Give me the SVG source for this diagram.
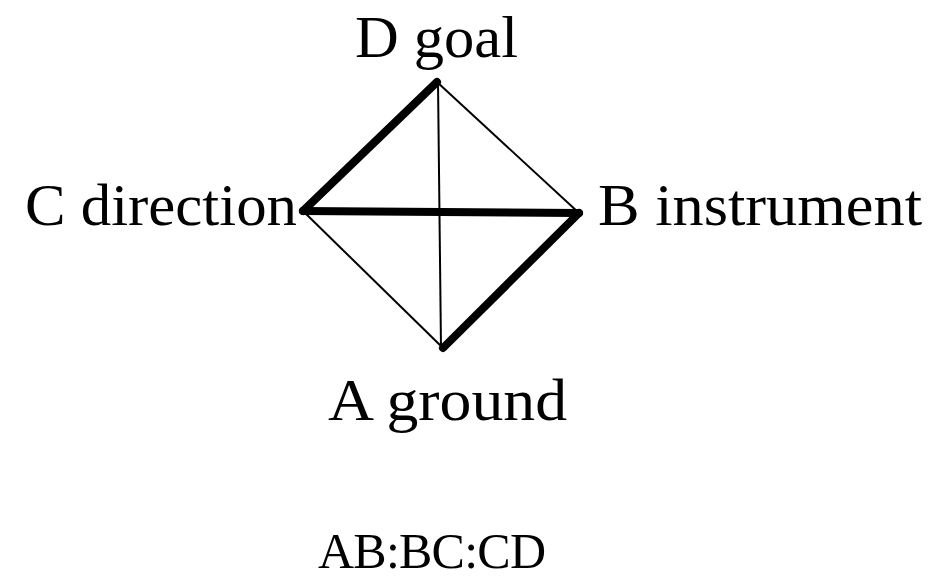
<svg xmlns="http://www.w3.org/2000/svg" width="932" height="581" viewBox="0 0 932 581">
<style>
.lbl{font-family:"Liberation Serif","Times New Roman",serif;font-size:60px;fill:#000}
.formula{font-family:"Liberation Serif","Times New Roman",serif;font-size:50px;fill:#000}
.thick{stroke:#000;stroke-width:8;stroke-linecap:round;fill:none}
.thin{stroke:#000;stroke-width:2;fill:none}
</style>
<rect width="932" height="581" fill="#fff"/>
<g id="connectors">
<line class="thin" x1="437" y1="82" x2="579" y2="213"/>
<line class="thin" x1="438" y1="82" x2="441" y2="348"/>
<line class="thin" x1="303" y1="211" x2="443" y2="348"/>
<line class="thick" x1="437" y1="82" x2="303" y2="211"/>
<line class="thick" x1="303" y1="211" x2="579" y2="213"/>
<line class="thick" x1="579" y1="213" x2="443" y2="348"/>
</g>
<g id="D"><text class="lbl" x="355" y="57" textLength="163" lengthAdjust="spacingAndGlyphs">D goal</text></g>
<g id="C"><text class="lbl" x="25" y="225" textLength="272" lengthAdjust="spacingAndGlyphs">C direction</text></g>
<g id="B"><text class="lbl" x="598" y="225" textLength="324" lengthAdjust="spacingAndGlyphs">B instrument</text></g>
<g id="A"><text class="lbl" x="328" y="420" textLength="239" lengthAdjust="spacingAndGlyphs">A ground</text></g>
<g id="formula"><text class="formula" x="318" y="568" textLength="228" lengthAdjust="spacing">AB:BC:CD</text></g>
</svg>
